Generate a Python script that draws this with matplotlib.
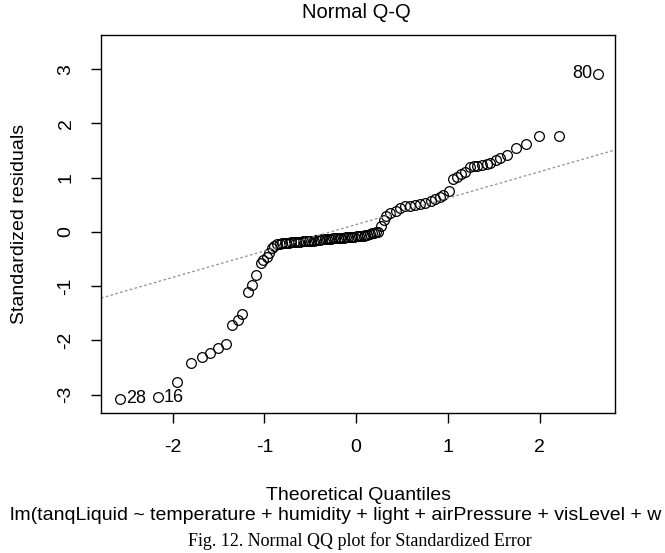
import matplotlib
matplotlib.use("Agg")
import matplotlib.pyplot as plt

# theoretical quantiles and standardized residuals
theo = [-2.57, -2.16, -1.95, -1.80, -1.68, -1.59, -1.50, -1.42, -1.35, -1.29, -1.24,
        -1.18, -1.14, -1.09, -1.04, -1.01, -0.97, -0.95, -0.92, -0.89,
        -0.86, -0.83, -0.81, -0.78, -0.76, -0.73, -0.71, -0.68, -0.66, -0.63,
        -0.61, -0.58, -0.56, -0.53, -0.51, -0.49, -0.46, -0.44, -0.41, -0.39,
        -0.37, -0.34, -0.32, -0.30, -0.27, -0.25, -0.23, -0.20, -0.18, -0.16,
        -0.13, -0.11, -0.09, -0.06, -0.04, -0.02, 0.01, 0.03, 0.05, 0.08,
        0.10, 0.12, 0.15, 0.17, 0.19, 0.22,
        0.24, 0.27, 0.30, 0.33, 0.37, 0.43, 0.48, 0.53, 0.59, 0.64,
        0.70, 0.75, 0.81, 0.86, 0.91, 0.95, 1.01,
        1.05, 1.10, 1.14, 1.19, 1.24, 1.28, 1.32, 1.37, 1.42, 1.46,
        1.52, 1.57, 1.64, 1.74, 1.85, 1.99, 2.21, 2.63]
resid = [-3.08, -3.05, -2.77, -2.41, -2.30, -2.24, -2.15, -2.07, -1.72, -1.62, -1.51,
         -1.11, -0.98, -0.80, -0.58, -0.52, -0.47, -0.39, -0.30, -0.26,
         -0.23, -0.22, -0.21, -0.21, -0.20, -0.20, -0.19, -0.19, -0.18, -0.18,
         -0.18, -0.17, -0.17, -0.17, -0.16, -0.16, -0.16, -0.15, -0.15, -0.15,
         -0.14, -0.14, -0.14, -0.13, -0.13, -0.12, -0.12, -0.12, -0.11, -0.11,
         -0.11, -0.10, -0.10, -0.09, -0.09, -0.09, -0.08, -0.08, -0.07, -0.07,
         -0.06, -0.05, -0.04, -0.03, -0.02, -0.01,
         0.00, 0.10, 0.22, 0.30, 0.34, 0.39, 0.44, 0.47, 0.47, 0.50,
         0.52, 0.53, 0.56, 0.60, 0.65, 0.68, 0.76,
         0.98, 1.02, 1.06, 1.11, 1.19, 1.22, 1.22, 1.24, 1.25, 1.27,
         1.32, 1.36, 1.42, 1.54, 1.62, 1.76, 1.77, 2.92]

# labelled outliers: (index into the lists, label, side)
outliers = [(0, "28", "right"), (1, "16", "right"), (len(theo) - 1, "80", "left")]

line_intercept = 0.135
line_slope = 0.4875

plt.rcParams['font.family'] = ['Liberation Sans', 'DejaVu Sans']
plt.rcParams['axes.unicode_minus'] = False

fig = plt.figure(figsize=(6.65, 5.53), dpi=100)
ax = fig.add_axes([101 / 665, 1 - 413 / 553, (615 - 101) / 665, (413 - 35) / 553])

ax.plot(theo, resid, linestyle='none', marker='o', markersize=7,
        markerfacecolor='none', markeredgecolor='black', markeredgewidth=0.9)
ax.axline((0, line_intercept), slope=line_slope, color='#8c8c8c',
          linestyle=(0, (2, 2)), linewidth=0.9)

for i, lab, side in outliers:
    if side == "right":
        ax.annotate(lab, (theo[i], resid[i]), xytext=(4, 0), textcoords='offset points',
                    ha='left', va='center', fontsize=13)
    else:
        ax.annotate(lab, (theo[i], resid[i]), xytext=(-4, 0), textcoords='offset points',
                    ha='right', va='center', fontsize=13)

ax.set_xlim(-2.78, 2.82)
ax.set_ylim(-3.34, 3.63)
ax.set_xticks([-2, -1, 0, 1, 2])
ax.set_yticks([-3, -2, -1, 0, 1, 2, 3])
ax.tick_params(direction='out', length=7, width=1, labelsize=14, pad=12)
for lab in ax.get_yticklabels():
    lab.set_rotation(90)
    lab.set_va('center')
for s in ax.spines.values():
    s.set_linewidth(1)

fig.text(356 / 665, 1 - 12 / 553, "Normal Q-Q", ha='center', va='center', fontsize=14.5)
fig.text(358 / 665, 1 - 496 / 553, "Theoretical Quantiles", ha='center', va='center', fontsize=14)
fig.text(10 / 665, 1 - 515 / 553,
         "lm(tanqLiquid ~ temperature + humidity + light + airPressure + visLevel + w",
         ha='left', va='center', fontsize=14)
fig.text(20 / 665, 1 - 224 / 553, "Standardized residuals", rotation=90,
         ha='center', va='center', fontsize=14)
fig.text(360 / 665, 1 - 541 / 553, "Fig. 12. Normal QQ plot for Standardized Error",
         ha='center', va='center', fontsize=13, family=['Liberation Serif', 'DejaVu Serif'])

fig.savefig("out.png", dpi=100)
